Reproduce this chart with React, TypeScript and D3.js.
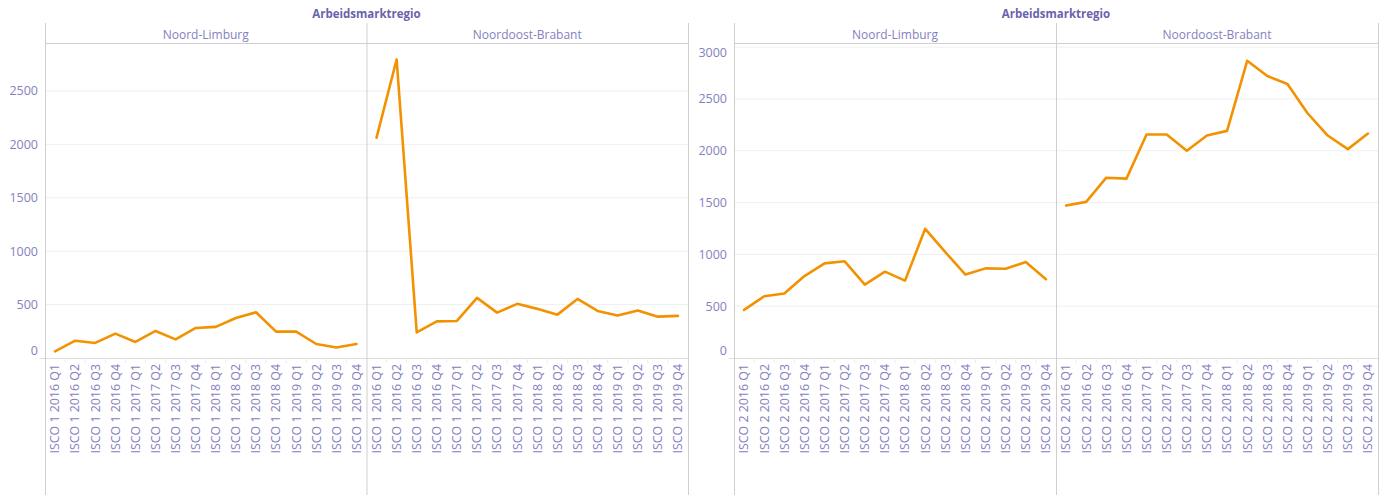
import * as React from "react"
import * as d3 from "d3"

const quarters = [
  "2016 Q1", "2016 Q2", "2016 Q3", "2016 Q4",
  "2017 Q1", "2017 Q2", "2017 Q3", "2017 Q4",
  "2018 Q1", "2018 Q2", "2018 Q3", "2018 Q4",
  "2019 Q1", "2019 Q2", "2019 Q3", "2019 Q4",
]
const regions = ["Noord-Limburg", "Noordoost-Brabant"]

const isco1NoordLimburg = [62, 162, 141, 228, 150, 253, 174, 281, 291, 375, 428, 247, 247, 131, 99, 131]
const isco1NoordoostBrabant = [2063, 2795, 240, 343, 347, 563, 425, 507, 460, 406, 553, 441, 397, 444, 387, 394]
const isco2NoordLimburg = [464, 596, 622, 791, 913, 933, 709, 833, 747, 1247, 1022, 805, 865, 862, 926, 760]
const isco2NoordoostBrabant = [1471, 1507, 1740, 1731, 2157, 2157, 2000, 2147, 2192, 2868, 2721, 2644, 2362, 2147, 2016, 2166]

const yTicks = [0, 500, 1000, 1500, 2000, 2500, 3000]

const TEXT = "#8581c0"
const TITLE = "#6a62ae"
const BORDER = "#cfcfcf"
const GRID = "#efefef"
const LINE = "#f39200"
const FONT = "'Open Sans', sans-serif"

function Panel(props) {
  const { left, right, isco, series, yMax } = props
  const top = 43
  const headTop = 23
  const bottom = 358
  const mid = left + (right - left) / 2
  const facets = [
    [left, mid],
    [mid, right],
  ]
  const y = d3.scaleLinear().domain([0, yMax]).range([bottom, top])
  const ticks = yTicks.filter((t) => t <= yMax)
  const line = d3.line().x((d) => d[0]).y((d) => d[1])

  return (
    <g>
      <text x={mid} y={18} textAnchor="middle" fontSize={11.5} fontWeight="bold" fill={TITLE} fontFamily={FONT}>
        Arbeidsmarktregio
      </text>
      {/* gridlines */}
      {ticks.filter((t) => t > 0).map((t) => (
        <line key={t} x1={left} x2={right} y1={y(t)} y2={y(t)} stroke={GRID} strokeWidth={1} />
      ))}
      {/* y tick labels */}
      {ticks.map((t) => {
        let ty = y(t)
        if (ty > bottom - 7) ty = bottom - 7
        if (ty < top + 10) ty = top + 10
        return (
          <text key={t} x={left - 7} y={ty} dy="0.35em" textAnchor="end" fontSize={12.5} fill={TEXT} fontFamily={FONT}>
            {t}
          </text>
        )
      })}
      {/* x axis */}
      <line x1={left - 5} x2={right} y1={bottom + 0.5} y2={bottom + 0.5} stroke="#dddddd" strokeWidth={1} />
      {facets.map(([x0, x1], fi) => {
        const x = d3.scalePoint().domain(quarters).range([x0, x1]).padding(0.5)
        const step = x.step()
        const pts = series[fi].map((v, i) => [x(quarters[i]), y(v)])
        return (
          <g key={fi}>
            <text x={(x0 + x1) / 2} y={35} dy="0.35em" textAnchor="middle" fontSize={12} fill={TEXT} fontFamily={FONT}>
              {regions[fi]}
            </text>
            {quarters.slice(1).map((q) => (
              <line key={q} x1={x(q) - step / 2} x2={x(q) - step / 2} y1={bottom} y2={bottom + 5} stroke="#ececec" />
            ))}
            {quarters.map((q) => (
              <text
                key={q}
                transform={`translate(${x(q)},${bottom + 6}) rotate(-90)`}
                dy="0.35em"
                textAnchor="end"
                fontSize={12.4}
                fill={TEXT}
                fontFamily={FONT}
              >
                {`ISCO ${isco} ${q}`}
              </text>
            ))}
            <path d={line(pts)} fill="none" stroke={LINE} strokeWidth={2.6} strokeLinejoin="round" strokeLinecap="round" />
          </g>
        )
      })}
      {/* frame */}
      <line x1={left} x2={right} y1={top + 0.5} y2={top + 0.5} stroke={BORDER} />
      {[left, mid, right].map((xx, i) => (
        <line key={i} x1={xx + 0.5} x2={xx + 0.5} y1={headTop} y2={495} stroke={BORDER} />
      ))}
    </g>
  )
}

export default function App() {
  return (
    <svg width={1390} height={495} style={{ position: "absolute", left: 0, top: 0, background: "#fff" }}>
      <Panel left={45} right={688} isco={1} series={[isco1NoordLimburg, isco1NoordoostBrabant]} yMax={2949} />
      <Panel left={734} right={1378} isco={2} series={[isco2NoordLimburg, isco2NoordoostBrabant]} yMax={3040} />
    </svg>
  )
}
